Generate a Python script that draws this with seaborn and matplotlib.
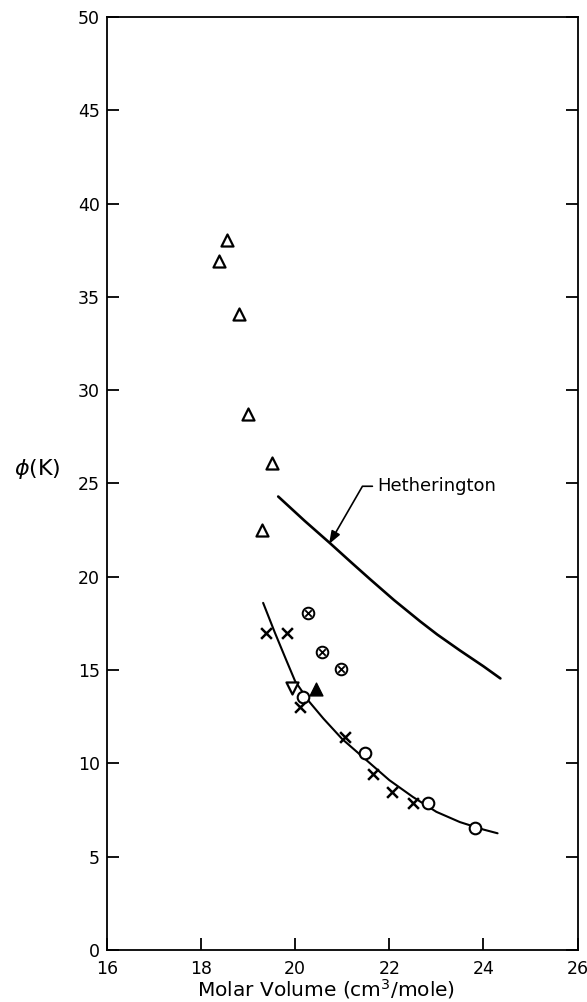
import matplotlib
matplotlib.use("Agg")
import matplotlib.pyplot as plt
import seaborn as sns
import pandas as pd

# ---- data ----
tri_up_x = [18.38, 18.55, 18.81, 19.00, 19.51, 19.30]
tri_up_y = [36.9, 38.05, 34.1, 28.7, 26.1, 22.5]

otimes_x = [20.28, 20.57, 20.98]
otimes_y = [18.05, 15.97, 15.06]

cross_x = [19.38, 19.83, 20.10, 21.06, 21.66, 22.06, 22.51]
cross_y = [17.0, 17.0, 13.0, 11.4, 9.43, 8.47, 7.88]

circle_x = [20.17, 21.49, 22.83, 23.81]
circle_y = [13.56, 10.55, 7.88, 6.54]

tri_down_x = [19.94]
tri_down_y = [14.04]

tri_filled_x = [20.45]
tri_filled_y = [14.0]

lower_curve_x = [19.32, 19.57, 19.80, 20.00, 20.30, 20.60, 21.00, 21.50,
                 22.00, 22.50, 23.00, 23.50, 24.00, 24.30]
lower_curve_y = [18.6, 17.0, 15.6, 14.4, 13.3, 12.4, 11.3, 10.2,
                 9.1, 8.2, 7.4, 6.85, 6.45, 6.25]

heth_x = [19.64, 20.20, 20.74, 21.20, 21.60, 22.10, 22.66, 23.02, 23.50, 24.00, 24.36]
heth_y = [24.3, 23.0, 21.8, 20.75, 19.85, 18.75, 17.6, 16.9, 16.05, 15.2, 14.55]

x_ticks = [16, 18, 20, 22, 24, 26]
y_ticks = [0, 5, 10, 15, 20, 25, 30, 35, 40, 45, 50]

annot_label = "Hetherington"
x_label = "Molar Volume (cm$^3$/mole)"
y_label = "$\\phi$(K)"

# ---- figure ----
sns.set_style("white")
plt.rcParams["font.family"] = ["DejaVu Sans"]
plt.rcParams["text.color"] = "black"
plt.rcParams["axes.labelcolor"] = "black"

fig = plt.figure(figsize=(5.87, 10.02), dpi=100)
ax = fig.add_axes([0.182, 0.052, 0.802, 0.931])

lower_df = pd.DataFrame({"x": lower_curve_x, "y": lower_curve_y})
heth_df = pd.DataFrame({"x": heth_x, "y": heth_y})

sns.lineplot(data=lower_df, x="x", y="y", sort=False, estimator=None,
             color="black", linewidth=1.5, ax=ax, zorder=2,
             solid_joinstyle="round", solid_capstyle="round")
sns.lineplot(data=heth_df, x="x", y="y", sort=False, estimator=None,
             color="black", linewidth=1.9, ax=ax, zorder=2,
             solid_joinstyle="round", solid_capstyle="round")

mk = dict(ax=ax, legend=False, zorder=4)
sns.scatterplot(x=tri_up_x, y=tri_up_y, marker="^", s=75,
                facecolor="white", edgecolor="black", linewidth=1.6, **mk)
sns.scatterplot(x=tri_down_x, y=tri_down_y, marker="v", s=75,
                facecolor="white", edgecolor="black", linewidth=1.6, **mk)
sns.scatterplot(x=tri_filled_x, y=tri_filled_y, marker="^", s=85,
                color="black", edgecolor="black", linewidth=1.0, **mk)
sns.scatterplot(x=circle_x, y=circle_y, marker="o", s=70,
                facecolor="white", edgecolor="black", linewidth=1.5, **mk)
sns.scatterplot(x=otimes_x, y=otimes_y, marker="o", s=70,
                facecolor="white", edgecolor="black", linewidth=1.4, **mk)
sns.scatterplot(x=otimes_x, y=otimes_y, marker="x", s=22,
                color="black", linewidth=1.3, ax=ax, legend=False, zorder=5)
sns.scatterplot(x=cross_x, y=cross_y, marker="x", s=60,
                color="black", linewidth=1.8, **mk)

ax.annotate(annot_label, xy=(20.72, 21.75), xytext=(21.74, 24.85),
            fontsize=13, ha="left", va="center", color="black",
            arrowprops=dict(arrowstyle="-|>,head_length=0.6,head_width=0.22",
                            color="black", linewidth=1.2,
                            connectionstyle="angle,angleA=180,angleB=60,rad=0",
                            relpos=(0, 0.5), shrinkA=1, shrinkB=0))

ax.set_xlim(16, 26)
ax.set_ylim(0, 50)
ax.set_xticks(x_ticks)
ax.set_yticks(y_ticks)
ax.set_xticklabels([str(t) for t in x_ticks])
ax.set_yticklabels([str(t) for t in y_ticks])

for side in ["left", "right", "top", "bottom"]:
    ax.spines[side].set_visible(True)
    ax.spines[side].set_color("black")
    ax.spines[side].set_linewidth(1.3)

ax.tick_params(axis="both", direction="in", length=8.5, width=1.3,
               labelsize=12.5, colors="black", labelcolor="black")
ax.tick_params(axis="x", pad=7.5, top=False, bottom=True)
ax.tick_params(axis="y", pad=5, left=True, right=True)

ax.set_xlabel(x_label, fontsize=14.5, color="black", va="center")
ax.xaxis.set_label_coords(0.465, -0.042)
ax.set_ylabel(y_label, fontsize=16, rotation=0, ha="center", va="center",
              color="black")
ax.yaxis.set_label_coords(-0.147, 0.515)

fig.savefig("out.png", dpi=100, facecolor="white")
